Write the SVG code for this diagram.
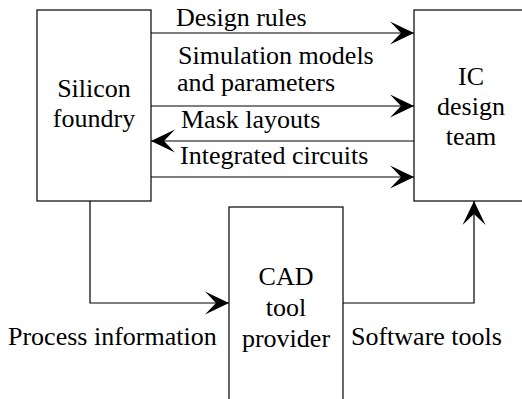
<svg xmlns="http://www.w3.org/2000/svg" width="522" height="399" viewBox="0 0 522 399">
<style>
.box{fill:#fff;stroke:#000;stroke-width:1.2}
.ln{fill:none;stroke:#000;stroke-width:1.2}
.t{font-family:"Liberation Serif",serif;font-size:26px;fill:#000}
.c{text-anchor:middle}
</style>
<defs>
<marker id="ah" viewBox="0 0 24 24" refX="24" refY="12" markerWidth="24" markerHeight="24" markerUnits="userSpaceOnUse" orient="auto">
<path d="M0,0.5 L24,12 L0,23.5 L11,12 Z" fill="#000"/>
</marker>
</defs>
<g id="connectors">
<line class="ln" x1="151" y1="33" x2="414" y2="33" marker-end="url(#ah)"/>
<line class="ln" x1="151" y1="106" x2="414" y2="106" marker-end="url(#ah)"/>
<line class="ln" x1="414" y1="141" x2="151" y2="141" marker-end="url(#ah)"/>
<line class="ln" x1="151" y1="177" x2="414" y2="177" marker-end="url(#ah)"/>
<polyline class="ln" points="90,201 90,303 229,303" marker-end="url(#ah)"/>
<polyline class="ln" points="343,303 474,303 474,201" marker-end="url(#ah)"/>
<text class="t" x="176" y="26">Design rules</text>
<text class="t" x="178" y="64">Simulation models</text>
<text class="t" x="177" y="91">and parameters</text>
<text class="t" x="181" y="128">Mask layouts</text>
<text class="t" x="180" y="164">Integrated circuits</text>
<text class="t" x="8" y="345">Process information</text>
<text class="t" x="351" y="345">Software tools</text>
</g>
<g id="silicon-foundry">
<rect class="box" x="37" y="10" width="114" height="191"/>
<text class="t c" x="94" y="97">Silicon</text>
<text class="t c" x="94" y="127">foundry</text>
</g>
<g id="ic-design-team">
<rect class="box" x="414" y="10" width="120" height="191"/>
<text class="t c" x="471" y="85">IC</text>
<text class="t c" x="471" y="115">design</text>
<text class="t c" x="471" y="145">team</text>
</g>
<g id="cad-tool-provider">
<rect class="box" x="229" y="207" width="114" height="200"/>
<text class="t c" x="286" y="285">CAD</text>
<text class="t c" x="286" y="316">tool</text>
<text class="t c" x="286" y="347">provider</text>
</g>
</svg>
